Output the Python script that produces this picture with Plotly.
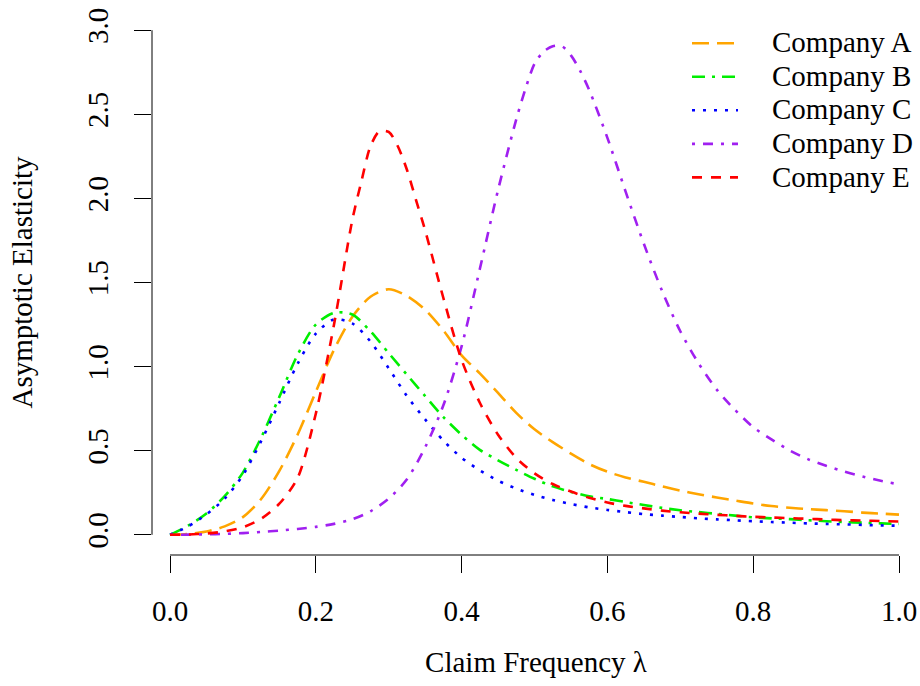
import plotly.graph_objects as go

# ---- data ----
lam = [0.0, 0.025, 0.05, 0.075, 0.1, 0.125, 0.15, 0.175, 0.2, 0.225, 0.25, 0.275,
       0.3, 0.325, 0.35, 0.375, 0.4, 0.425, 0.45, 0.475, 0.5, 0.525, 0.55, 0.575,
       0.6, 0.625, 0.65, 0.675, 0.7, 0.725, 0.75, 0.775, 0.8, 0.825, 0.85, 0.875,
       0.9, 0.925, 0.95, 0.975, 1.0]

company_a = [0.0, 0.005, 0.02, 0.05, 0.105, 0.213, 0.38, 0.595, 0.85, 1.10, 1.295, 1.415,
             1.46, 1.42, 1.338, 1.215, 1.067, 0.96, 0.844, 0.725, 0.627, 0.551, 0.483, 0.421,
             0.375, 0.341, 0.315, 0.288, 0.263, 0.241, 0.222, 0.204, 0.186, 0.171, 0.161, 0.153,
             0.147, 0.14, 0.132, 0.126, 0.12]

company_b = [0.0, 0.055, 0.127, 0.23, 0.37, 0.578, 0.82, 1.07, 1.25, 1.32, 1.31, 1.21,
             1.08, 0.952, 0.825, 0.70, 0.595, 0.505, 0.443, 0.386, 0.333, 0.288, 0.255, 0.229,
             0.213, 0.195, 0.177, 0.16, 0.146, 0.135, 0.125, 0.114, 0.104, 0.098, 0.093, 0.087,
             0.081, 0.076, 0.072, 0.068, 0.065]

company_c = [0.0, 0.05, 0.122, 0.215, 0.355, 0.557, 0.786, 1.016, 1.196, 1.28, 1.257, 1.149,
             0.99, 0.825, 0.686, 0.56, 0.458, 0.383, 0.322, 0.275, 0.237, 0.207, 0.183, 0.163,
             0.148, 0.135, 0.123, 0.114, 0.106, 0.098, 0.092, 0.086, 0.081, 0.076, 0.072, 0.068,
             0.065, 0.062, 0.059, 0.056, 0.054]

# Company D and E have extra readings around their sharp peaks
lam_d = [0.0, 0.025, 0.05, 0.075, 0.1, 0.125, 0.15, 0.175, 0.2, 0.225, 0.25, 0.275,
         0.3, 0.325, 0.35, 0.375, 0.4, 0.425, 0.45, 0.475, 0.4875, 0.5, 0.5125, 0.525,
         0.5375, 0.55, 0.5625, 0.575, 0.6, 0.625, 0.65, 0.675, 0.7, 0.725, 0.75, 0.775,
         0.8, 0.825, 0.85, 0.875, 0.9, 0.925, 0.95, 0.975, 1.0]
company_d = [0.0, 0.001, 0.003, 0.006, 0.01, 0.017, 0.025, 0.035, 0.047, 0.065, 0.092, 0.14,
             0.215, 0.33, 0.52, 0.77, 1.12, 1.58, 2.05, 2.47, 2.65, 2.80, 2.873, 2.905,
             2.905, 2.85, 2.76, 2.645, 2.36, 2.04, 1.73, 1.45, 1.21, 1.02, 0.863, 0.743,
             0.64, 0.567, 0.502, 0.45, 0.41, 0.376, 0.347, 0.321, 0.30]

lam_e = [0.0, 0.025, 0.05, 0.075, 0.1, 0.125, 0.15, 0.175, 0.2, 0.225, 0.25, 0.2625,
         0.275, 0.2875, 0.3, 0.3125, 0.325, 0.3375, 0.35, 0.375, 0.4, 0.425, 0.45, 0.475,
         0.5, 0.525, 0.55, 0.575, 0.6, 0.625, 0.65, 0.675, 0.7, 0.725, 0.75, 0.775,
         0.8, 0.825, 0.85, 0.875, 0.9, 0.925, 0.95, 0.975, 1.0]
company_e = [0.0, 0.002, 0.008, 0.02, 0.045, 0.095, 0.185, 0.338, 0.72, 1.25, 1.87, 2.10,
             2.31, 2.40, 2.395, 2.31, 2.17, 1.99, 1.81, 1.408, 1.04, 0.785, 0.595, 0.457,
             0.365, 0.302, 0.257, 0.22, 0.192, 0.172, 0.157, 0.144, 0.134, 0.126, 0.119, 0.113,
             0.107, 0.103, 0.099, 0.095, 0.091, 0.087, 0.085, 0.082, 0.079]

names = ["Company A", "Company B", "Company C", "Company D", "Company E"]
colors = ["#FFA500", "#00EE00", "#0000FF", "#A020F0", "#FF0000"]
dashes = ["17px,8px", "13px,7px,3px,7px", "3px,8px", "3px,8px,10px,8px", "10px,9px"]
xs = [lam, lam, lam, lam_d, lam_e]
series = [company_a, company_b, company_c, company_d, company_e]

x_ticks = [0.0, 0.2, 0.4, 0.6, 0.8, 1.0]
x_ticktext = ["0.0", "0.2", "0.4", "0.6", "0.8", "1.0"]
y_ticks = [0.0, 0.5, 1.0, 1.5, 2.0, 2.5, 3.0]
y_ticktext = ["0.0", "0.5", "1.0", "1.5", "2.0", "2.5", "3.0"]

FONT = "Liberation Serif"
FS = 29
NB = "\u00a0" * 4

fig = go.Figure()
for nm, xv, ys, col, ds in zip(names, xs, series, colors, dashes):
    fig.add_trace(go.Scatter(
        x=xv, y=ys, mode="lines",
        name=f"<span style='font-size:{FS}px'>{NB}{nm}</span>",
        line=dict(color=col, width=2.6, dash=ds, shape="spline", smoothing=0.8),
    ))

# R-style axis lines spanning only from first to last tick
fig.add_shape(type="line", xref="x", yref="paper",
              x0=min(x_ticks), x1=max(x_ticks), y0=0, y1=0,
              line=dict(color="black", width=1))
fig.add_shape(type="line", xref="paper", yref="y",
              x0=0, x1=0, y0=min(y_ticks), y1=max(y_ticks),
              line=dict(color="black", width=1))

fig.update_layout(
    width=920, height=686,
    margin=dict(l=152, r=0, t=10, b=131),
    paper_bgcolor="white", plot_bgcolor="white",
    font=dict(family=FONT, size=FS, color="black"),
    showlegend=True,
    legend=dict(x=0.6966, y=0.979, xanchor="left", yanchor="top",
                bgcolor="rgba(0,0,0,0)", borderwidth=0,
                font=dict(family=FONT, size=23.5), itemwidth=46,
                tracegroupgap=0),
    xaxis=dict(range=[-18 / 729, 750 / 729], showgrid=False, zeroline=False,
               showline=False, ticks="outside", ticklen=17, tickwidth=1,
               tickcolor="black", tickvals=x_ticks, ticktext=x_ticktext,
               ticklabelstandoff=13,
               title=dict(text="Claim Frequency λ", standoff=25,
                          font=dict(family=FONT, size=FS))),
    yaxis=dict(range=[-0.12, 3.12], showgrid=False, zeroline=False,
               showline=False, ticks="outside", ticklen=17, tickwidth=1,
               tickcolor="black", tickvals=y_ticks, ticktext=y_ticktext,
               tickangle=-90, ticklabelstandoff=14,
               title=dict(text="Asymptotic Elasticity", standoff=41,
                          font=dict(family=FONT, size=FS))),
)

fig.write_html("out.html")
